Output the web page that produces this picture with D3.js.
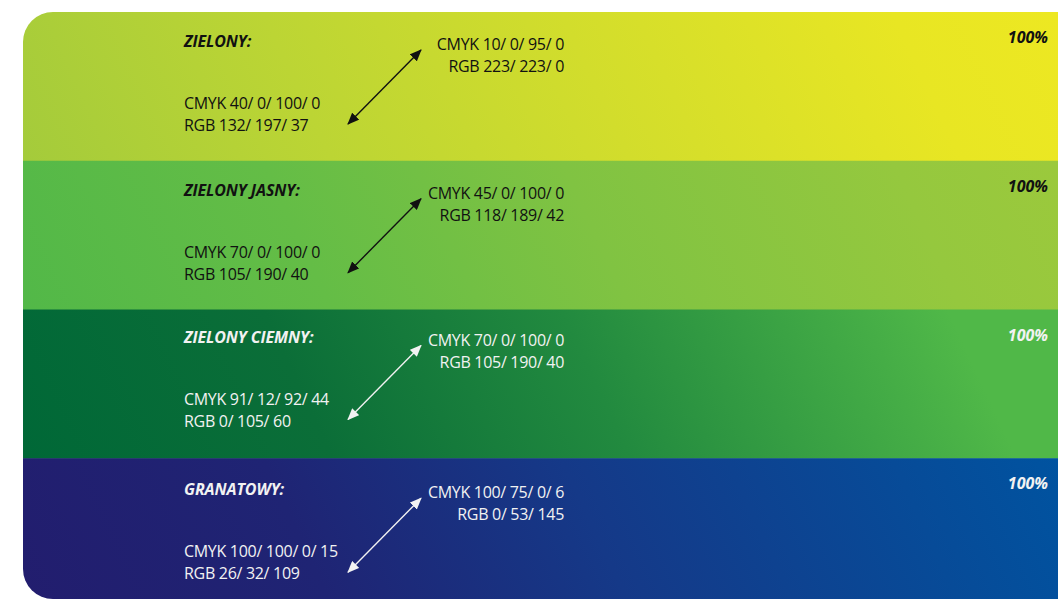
<!DOCTYPE html>
<html>
<head>
<meta charset="utf-8">
<script src="https://cdn.jsdelivr.net/npm/d3@7"></script>
<style>
  html, body { margin: 0; padding: 0; background: #ffffff; }
  svg { display: block; }
</style>
</head>
<body>
<svg id="chart" width="1058" height="599"></svg>
<script>
// ---- data ----
const names = ["ZIELONY:", "ZIELONY JASNY:", "ZIELONY CIEMNY:", "GRANATOWY:"];
const cmykBase = ["CMYK 40/ 0/ 100/ 0", "CMYK 70/ 0/ 100/ 0", "CMYK 91/ 12/ 92/ 44", "CMYK 100/ 100/ 0/ 15"];
const rgbBase  = ["RGB 132/ 197/ 37", "RGB 105/ 190/ 40", "RGB 0/ 105/ 60", "RGB 26/ 32/ 109"];
const cmykAlt  = ["CMYK 10/ 0/ 95/ 0", "CMYK 45/ 0/ 100/ 0", "CMYK 70/ 0/ 100/ 0", "CMYK 100/ 75/ 0/ 6"];
const rgbAlt   = ["RGB 223/ 223/ 0", "RGB 118/ 189/ 42", "RGB 105/ 190/ 40", "RGB 0/ 53/ 145"];
const shares   = ["100%", "100%", "100%", "100%"];

// gradient palette per band (offset, colour)
const gradStops = [
  [[0, "#a4cb3b"], [0.28, "#bcd534"], [0.55, "#d2dd2c"], [0.85, "#e8e623"], [1, "#ede822"]],
  [[0, "#52b848"], [0.28, "#64bd46"], [0.55, "#80c342"], [0.85, "#95c83e"], [1, "#9bc93c"]],
  [[0, "#006837"], [0.28, "#0b6e38"], [0.55, "#228a3f"], [0.82, "#45ad46"], [0.9, "#50b848"], [1, "#50b848"]],
  [[0, "#221d6e"], [0.28, "#1f2474"], [0.55, "#153988"], [0.85, "#074b98"], [1, "#0053a0"]]
];
const inkColors = ["#111111", "#111111", "#f2f2f2", "#f2f2f2"];

// ---- layout ----
const W = 1058, H = 599;
const cardLeft = 23, cardTop = 12, cardBottom = 599;
const rowNudge = [0, 0, -2, 2];   // small per-row vertical layout tweak
const svg = d3.select("#chart");
const defs = svg.append("defs");

const y = d3.scaleBand().domain(names).range([cardTop, cardTop + 4 * 148.75]).padding(0);
const x = d3.scaleLinear().domain([0, 1]).range([cardLeft, W]);
const ty = (d, i) => y(d) + rowNudge[i];

defs.append("clipPath").attr("id", "card")
  .append("rect")
  .attr("x", cardLeft).attr("y", cardTop)
  .attr("width", 1200).attr("height", cardBottom - cardTop)
  .attr("rx", 30).attr("ry", 30);

const theta = 25 * Math.PI / 180;
names.forEach((n, i) => {
  const y0 = y(n) + y.bandwidth();
  const L = (W - cardLeft) * Math.cos(theta) + y.bandwidth() * Math.sin(theta);
  const g = defs.append("linearGradient")
    .attr("id", "grad" + i)
    .attr("gradientUnits", "userSpaceOnUse")
    .attr("x1", cardLeft).attr("y1", y0)
    .attr("x2", cardLeft + L * Math.cos(theta)).attr("y2", y0 - L * Math.sin(theta));
  gradStops[i].forEach(s => g.append("stop").attr("offset", s[0]).attr("stop-color", s[1]));

  defs.append("marker").attr("id", "arrow" + i)
    .attr("viewBox", "0 0 12 10").attr("refX", 11).attr("refY", 5)
    .attr("markerWidth", 12).attr("markerHeight", 10)
    .attr("markerUnits", "userSpaceOnUse")
    .attr("orient", "auto-start-reverse")
    .append("path").attr("d", "M0,0 L12,5 L0,10 Z").attr("fill", inkColors[i]);
});

const card = svg.append("g").attr("clip-path", "url(#card)");

const bands = card.selectAll("g.band").data(names).enter().append("g").attr("class", "band");

bands.append("rect")
  .attr("x", x(0)).attr("y", d => y(d))
  .attr("width", x(1) - x(0) + 10)
  .attr("height", (d, i) => y.bandwidth() + (i < names.length - 1 ? 0.5 : 20))
  .attr("fill", (d, i) => `url(#grad${i})`);

const font = "'Open Sans', 'Noto Sans', sans-serif";

// titles
bands.append("text")
  .attr("x", 184).attr("y", (d, i) => ty(d, i) + 35)
  .attr("font-family", font).attr("font-size", 16).attr("font-weight", 700).attr("font-style", "italic")
  .attr("letter-spacing", -0.1)
  .attr("fill", (d, i) => inkColors[i])
  .text(d => d);

// base colour lines
const bodySize = 16, bodySpacing = -0.3;
bands.append("text")
  .attr("x", 184).attr("y", (d, i) => ty(d, i) + 97)
  .attr("font-family", font).attr("font-size", bodySize)
  .attr("letter-spacing", bodySpacing)
  .attr("fill", (d, i) => inkColors[i])
  .text((d, i) => cmykBase[i]);
bands.append("text")
  .attr("x", 184).attr("y", (d, i) => ty(d, i) + 119)
  .attr("font-family", font).attr("font-size", bodySize)
  .attr("letter-spacing", bodySpacing)
  .attr("fill", (d, i) => inkColors[i])
  .text((d, i) => rgbBase[i]);

// alt colour lines (right aligned)
bands.append("text")
  .attr("x", 564).attr("y", (d, i) => ty(d, i) + 38)
  .attr("text-anchor", "end")
  .attr("font-family", font).attr("font-size", bodySize)
  .attr("letter-spacing", bodySpacing)
  .attr("fill", (d, i) => inkColors[i])
  .text((d, i) => cmykAlt[i]);
bands.append("text")
  .attr("x", 564).attr("y", (d, i) => ty(d, i) + 60)
  .attr("text-anchor", "end")
  .attr("font-family", font).attr("font-size", bodySize)
  .attr("letter-spacing", bodySpacing)
  .attr("fill", (d, i) => inkColors[i])
  .text((d, i) => rgbAlt[i]);

// arrows
bands.append("line")
  .attr("x1", 348).attr("y1", (d, i) => ty(d, i) + 112)
  .attr("x2", 421).attr("y2", (d, i) => ty(d, i) + 38)
  .attr("stroke", (d, i) => inkColors[i]).attr("stroke-width", 1.4)
  .attr("marker-start", (d, i) => `url(#arrow${i})`)
  .attr("marker-end", (d, i) => `url(#arrow${i})`);

// share labels
bands.append("text")
  .attr("x", 1048).attr("y", d => y(d) + 31)
  .attr("text-anchor", "end")
  .attr("font-family", font).attr("font-size", 16).attr("font-weight", 700).attr("font-style", "italic")
  .attr("letter-spacing", 0)
  .attr("fill", (d, i) => inkColors[i])
  .text((d, i) => shares[i]);
</script>
</body>
</html>
